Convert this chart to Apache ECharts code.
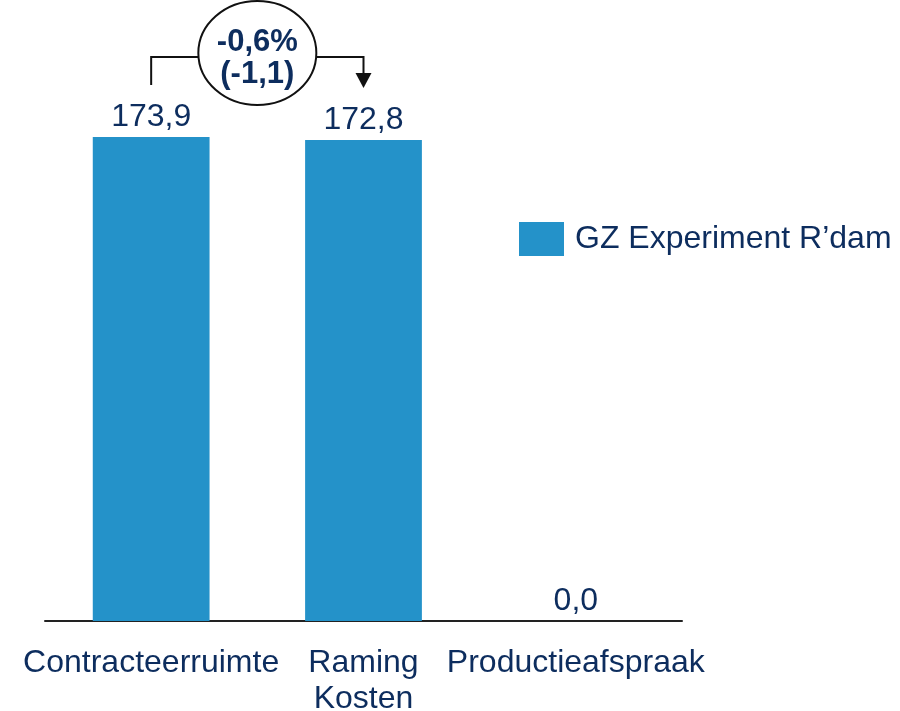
<!DOCTYPE html>
<html>
<head>
<meta charset="utf-8">
<script src="https://cdn.jsdelivr.net/npm/echarts@6/dist/echarts.min.js"></script>
<style>
  html, body { margin: 0; padding: 0; background: #fff; }
  #main { width: 900px; height: 711px; }
</style>
</head>
<body>
<div id="main"></div>
<script>
// gegevens
var categories = ['Contracteerruimte', 'Raming\nKosten', 'Productieafspraak'];
var values = [173.9, 172.8, 0.0];
var seriesName = 'GZ Experiment R\u2019dam';
var diffPct = '-0,6%';
var diffAbs = '(-1,1)';

var navy = '#0D2D5E';
var barBlue = '#2492C9';
var font = '"Liberation Sans", Arial, sans-serif';

var chart = echarts.init(document.getElementById('main'));

function fmt(v) {
    return v.toFixed(1).replace('.', ',');
}

var option = {
    animation: false,
    grid: {
        left: 45,
        right: 218,
        top: 120,
        bottom: 90,
        outerBoundsMode: 'none',
        containLabel: false
    },
    legend: {
        data: [seriesName],
        left: 519,
        top: 222,
        padding: 0,
        itemWidth: 45,
        itemHeight: 34,
        itemGap: 10,
        textStyle: { color: navy, fontSize: 32, fontFamily: font, padding: [0, 0, 0, 6] },
        icon: 'rect'
    },
    xAxis: {
        type: 'category',
        data: categories,
        axisLine: { lineStyle: { color: '#222', width: 2 } },
        axisTick: { show: false },
        axisLabel: {
            color: navy,
            fontSize: 32,
            fontFamily: font,
            lineHeight: 36,
            margin: 24,
            interval: 0
        }
    },
    yAxis: {
        type: 'value',
        min: 0,
        max: 180,
        show: false,
        splitLine: { show: false }
    },
    series: [
        {
            name: seriesName,
            type: 'bar',
            data: values,
            barWidth: '55%',
            itemStyle: { color: barBlue },
            label: {
                show: true,
                position: 'top',
                distance: 4,
                color: navy,
                fontSize: 32,
                fontFamily: font,
                formatter: function (p) { return fmt(p.value); }
            }
        }
    ]
};
chart.setOption(option);

// annotatie: verschil tussen eerste twee staven
var p1 = chart.convertToPixel({ seriesIndex: 0 }, [0, values[0]]);
var p2 = chart.convertToPixel({ seriesIndex: 0 }, [1, values[1]]);
var x1 = p1[0], x2 = p2[0];
var yLine = 57;
var cx = (x1 + x2) / 2, cy = 53;
var rx = 59, ry = 52;

chart.setOption({
    graphic: [
        {
            type: 'polyline',
            shape: { points: [[x1, 85], [x1, yLine], [cx - rx, yLine]] },
            style: { stroke: '#111', lineWidth: 2, fill: null }
        },
        {
            type: 'polyline',
            shape: { points: [[cx + rx, yLine], [x2, yLine], [x2, 75]] },
            style: { stroke: '#111', lineWidth: 2, fill: null }
        },
        {
            type: 'polygon',
            shape: { points: [[x2 - 8, 73], [x2 + 8, 73], [x2, 88]] },
            style: { fill: '#111' }
        },
        {
            type: 'ellipse',
            shape: { cx: cx, cy: cy, rx: rx, ry: ry },
            style: { fill: '#fff', stroke: '#111', lineWidth: 2 }
        },
        {
            type: 'text',
            x: cx,
            y: 42,
            style: {
                text: diffPct,
                fill: navy,
                font: 'bold 31px ' + font,
                align: 'center',
                verticalAlign: 'middle'
            }
        },
        {
            type: 'text',
            x: cx,
            y: 74,
            style: {
                text: diffAbs,
                fill: navy,
                font: 'bold 31px ' + font,
                align: 'center',
                verticalAlign: 'middle'
            }
        }
    ]
});
</script>
</body>
</html>
